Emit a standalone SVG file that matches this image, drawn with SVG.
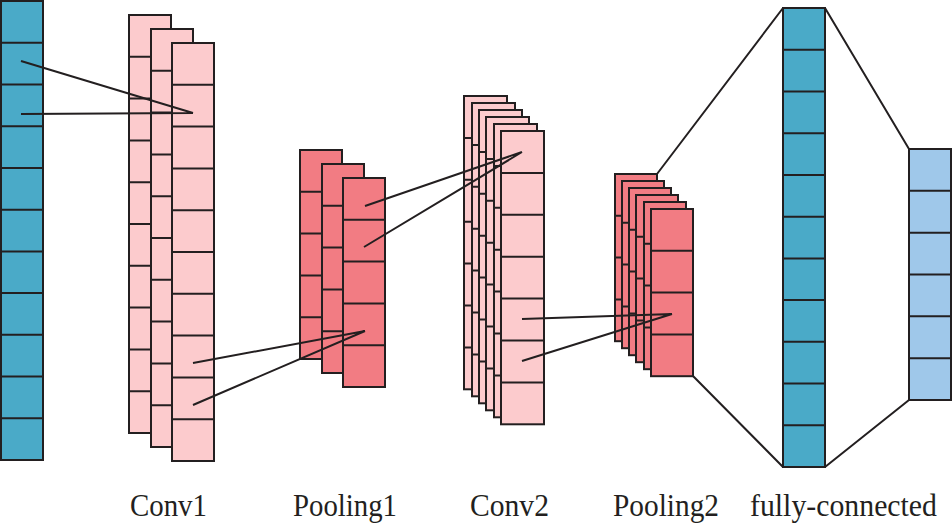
<svg xmlns="http://www.w3.org/2000/svg" width="952" height="523" viewBox="0 0 952 523">
<style>
rect{stroke:#231f20;stroke-width:2}
.teal{fill:#4aaac8}
.pink{fill:#fccbcd}
.salmon{fill:#f27c83}
.lblue{fill:#9fc8ea}
.cells{stroke:#231f20;stroke-width:2;fill:none}
.conn{stroke:#231f20;stroke-width:2;fill:none}
text{font-family:"Liberation Serif","Times New Roman",serif;font-size:31px;fill:#231f20}
</style>
<rect width="952" height="523" fill="#ffffff" style="stroke:none"/>

<g id="input">
<rect class="teal" x="1" y="1" width="42" height="459"/>
<path class="cells" d="M1 42.7H43M1 84.5H43M1 126.2H43M1 167.9H43M1 209.7H43M1 251.4H43M1 293.1H43M1 334.8H43M1 376.6H43M1 418.3H43"/>
</g>

<g id="conv1">
<rect class="pink" x="129" y="15" width="42" height="418"/>
<path class="cells" d="M129 56.8H171M129 98.6H171M129 140.4H171M129 182.2H171M129 224H171M129 265.8H171M129 307.6H171M129 349.4H171M129 391.2H171"/>
<rect class="pink" x="151" y="29" width="42" height="418"/>
<path class="cells" d="M151 70.8H193M151 112.6H193M151 154.4H193M151 196.2H193M151 238H193M151 279.8H193M151 321.6H193M151 363.4H193M151 405.2H193"/>
<rect class="pink" x="172" y="43" width="42" height="418"/>
<path class="cells" d="M172 84.8H214M172 126.6H214M172 168.4H214M172 210.2H214M172 252H214M172 293.8H214M172 335.6H214M172 377.4H214M172 419.2H214"/>
</g>

<g id="pooling1">
<rect class="salmon" x="300" y="150" width="42" height="209"/>
<path class="cells" d="M300 191.8H342M300 233.6H342M300 275.4H342M300 317.2H342"/>
<rect class="salmon" x="322" y="164" width="42" height="209"/>
<path class="cells" d="M322 205.8H364M322 247.6H364M322 289.4H364M322 331.2H364"/>
<rect class="salmon" x="343" y="178" width="42" height="209"/>
<path class="cells" d="M343 219.8H385M343 261.6H385M343 303.4H385M343 345.2H385"/>
</g>

<g id="conv2">
<rect class="pink" x="464" y="96" width="43" height="293.3"/>
<path class="cells" d="M464 137.9H507M464 179.8H507M464 221.7H507M464 263.6H507M464 305.5H507M464 347.4H507"/>
<rect class="pink" x="472" y="103" width="43" height="293.3"/>
<path class="cells" d="M472 144.9H515M472 186.8H515M472 228.7H515M472 270.6H515M472 312.5H515M472 354.4H515"/>
<rect class="pink" x="479" y="110" width="43" height="293.3"/>
<path class="cells" d="M479 151.9H522M479 193.8H522M479 235.7H522M479 277.6H522M479 319.5H522M479 361.4H522"/>
<rect class="pink" x="486" y="117" width="43" height="293.3"/>
<path class="cells" d="M486 158.9H529M486 200.8H529M486 242.7H529M486 284.6H529M486 326.5H529M486 368.4H529"/>
<rect class="pink" x="494" y="124" width="43" height="293.3"/>
<path class="cells" d="M494 165.9H537M494 207.8H537M494 249.7H537M494 291.6H537M494 333.5H537M494 375.4H537"/>
<rect class="pink" x="501" y="131" width="43" height="293.3"/>
<path class="cells" d="M501 172.9H544M501 214.8H544M501 256.7H544M501 298.6H544M501 340.5H544M501 382.4H544"/>
</g>

<g id="pooling2">
<rect class="salmon" x="615" y="174" width="42" height="167.2"/>
<path class="cells" d="M615 215.8H657M615 257.6H657M615 299.4H657"/>
<rect class="salmon" x="622" y="181" width="42" height="167.2"/>
<path class="cells" d="M622 222.8H664M622 264.6H664M622 306.4H664"/>
<rect class="salmon" x="629" y="188" width="42" height="167.2"/>
<path class="cells" d="M629 229.8H671M629 271.6H671M629 313.4H671"/>
<rect class="salmon" x="636" y="195" width="42" height="167.2"/>
<path class="cells" d="M636 236.8H678M636 278.6H678M636 320.4H678"/>
<rect class="salmon" x="644" y="202" width="42" height="167.2"/>
<path class="cells" d="M644 243.8H686M644 285.6H686M644 327.4H686"/>
<rect class="salmon" x="651" y="209" width="42" height="167.2"/>
<path class="cells" d="M651 250.8H693M651 292.6H693M651 334.4H693"/>
</g>

<g id="fully-connected">
<rect class="teal" x="783" y="8" width="42" height="459"/>
<path class="cells" d="M783 49.7H825M783 91.5H825M783 133.2H825M783 174.9H825M783 216.7H825M783 258.4H825M783 300.1H825M783 341.8H825M783 383.6H825M783 425.3H825"/>
</g>

<g id="output">
<rect class="lblue" x="909" y="149" width="42" height="251"/>
<path class="cells" d="M909 190.8H951M909 232.7H951M909 274.5H951M909 316.3H951M909 358.2H951"/>
</g>

<g id="connectors">
<path class="conn" d="M21 61L193 113M21 114L193 113"/>
<path class="conn" d="M193 363L365 331M193 405L365 331"/>
<path class="conn" d="M365 206L522 152M364 247L522 152"/>
<path class="conn" d="M522 319L672 314M522 361L672 314"/>
<path class="conn" d="M657 174L783 8M693 376L783 467"/>
<path class="conn" d="M825 8L909 149M825 467L909 400"/>
</g>

<g id="labels">
<text x="130" y="516" textLength="77" lengthAdjust="spacingAndGlyphs">Conv1</text>
<text x="293" y="516" textLength="104" lengthAdjust="spacingAndGlyphs">Pooling1</text>
<text x="470" y="516" textLength="79" lengthAdjust="spacingAndGlyphs">Conv2</text>
<text x="613" y="516" textLength="106" lengthAdjust="spacingAndGlyphs">Pooling2</text>
<text x="750" y="516" textLength="187" lengthAdjust="spacingAndGlyphs">fully-connected</text>
</g>
</svg>
